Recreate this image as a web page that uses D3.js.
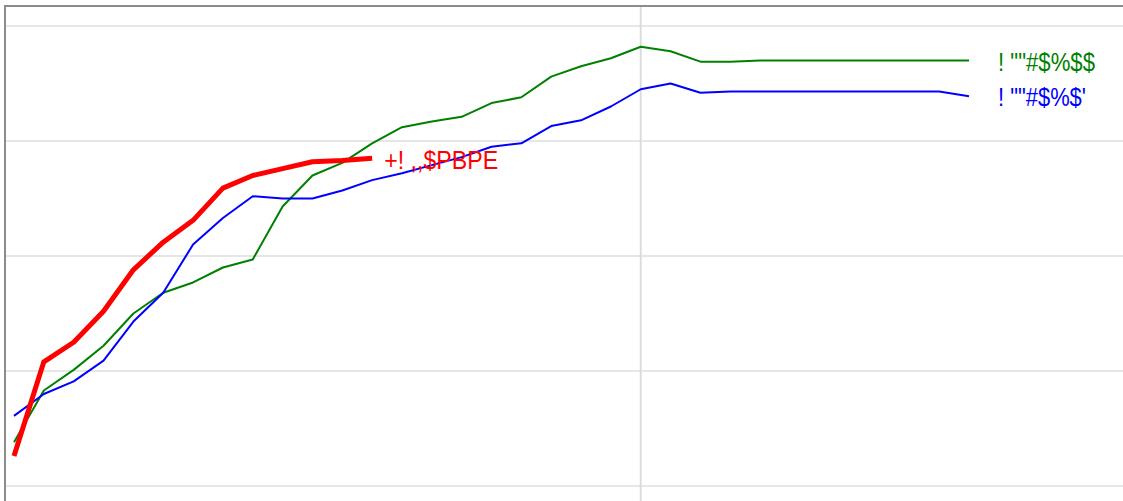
<!DOCTYPE html>
<html>
<head>
<meta charset="utf-8">
<script src="https://cdn.jsdelivr.net/npm/d3@7"></script>
<style>
    body { margin: 0; background: #fff; }
    svg { display: block; }
    .label { font-family: "Liberation Sans", Arial, sans-serif; font-size: 26px; }
</style>
</head>
<body>
<div id="graphic"></div>
<script>
// Dati (indice del punto sull'asse x)
var greenValues = [3.8, 8.3, 10.1, 12.2, 15.0, 16.8, 17.7, 19.0, 19.7, 24.3, 27.0, 28.1, 29.8, 31.2, 31.7, 32.1,
    33.3, 33.8, 35.6, 36.5, 37.2, 38.2, 37.8, 36.9, 36.9, 37.0, 37.0, 37.0, 37.0, 37.0, 37.0, 37.0, 37.0];
var blueValues = [6.1, 8.0, 9.1, 10.9, 14.3, 16.8, 21.0, 23.3, 25.2, 25.0, 25.0, 25.7, 26.6, 27.2, 27.9, 28.6,
    29.5, 29.8, 31.3, 31.8, 33.0, 34.5, 35.0, 34.2, 34.3, 34.3, 34.3, 34.3, 34.3, 34.3, 34.3, 34.3, 33.9];
var redValues = [2.6, 10.8, 12.5, 15.2, 18.8, 21.2, 23.1, 25.9, 27.0, 27.6, 28.2, 28.3, 28.5];
var seriesLabels = ['! ""#$%$$', '! ""#$%$\'', '+! ,,$PBPE'];
var yTicks = [0, 10, 20, 30, 40];
var xTicks = [21];

var w = 1123, h = 501;

var xScale = d3.scaleLinear()
    .domain([0, 32])
    .range([14, 969]);
var yScale = d3.scaleLinear()
    .domain([0, 40])
    .range([486, 26]);

var svg = d3.select('#graphic')
    .append('svg')
    .attr('width', w)
    .attr('height', h);

// griglia orizzontale
svg.append('g')
    .selectAll('line')
    .data(yTicks)
    .enter()
    .append('line')
    .attr('x1', 6)
    .attr('x2', w)
    .attr('y1', function (d) { return yScale(d); })
    .attr('y2', function (d) { return yScale(d); })
    .attr('stroke', '#e6e6e6')
    .attr('stroke-width', 2);

// griglia verticale
svg.append('g')
    .selectAll('line')
    .data(xTicks)
    .enter()
    .append('line')
    .attr('x1', function (d) { return xScale(d); })
    .attr('x2', function (d) { return xScale(d); })
    .attr('y1', 6)
    .attr('y2', h)
    .attr('stroke', '#dcdcdc')
    .attr('stroke-width', 2);

// bordo
svg.append('path')
    .attr('d', 'M5,' + h + 'V6H' + w)
    .attr('fill', 'none')
    .attr('stroke', '#8c8c8c')
    .attr('stroke-width', 2);

var line = d3.line()
    .x(function (d, i) { return xScale(i); })
    .y(function (d) { return yScale(d); });

var series = [
    {values: greenValues, color: '#008000', width: 2, label: seriesLabels[0], dx: 29, dy: 10, len: 97},
    {values: blueValues, color: '#0000ff', width: 2, label: seriesLabels[1], dx: 29, dy: 10, len: 88},
    {values: redValues, color: '#ff0000', width: 5, label: seriesLabels[2], dx: 12, dy: 11, len: 114}
];

series.forEach(function (s) {
    svg.append('path')
        .datum(s.values)
        .attr('d', line)
        .attr('fill', 'none')
        .attr('stroke', s.color)
        .attr('stroke-width', s.width)
        .attr('stroke-linejoin', 'round');

    var last = s.values.length - 1;
    svg.append('text')
        .attr('class', 'label')
        .attr('x', xScale(last) + s.dx)
        .attr('y', yScale(s.values[last]) + s.dy)
        .attr('fill', s.color)
        .attr('textLength', s.len)
        .attr('lengthAdjust', 'spacingAndGlyphs')
        .text(s.label);
});
</script>
</body>
</html>
